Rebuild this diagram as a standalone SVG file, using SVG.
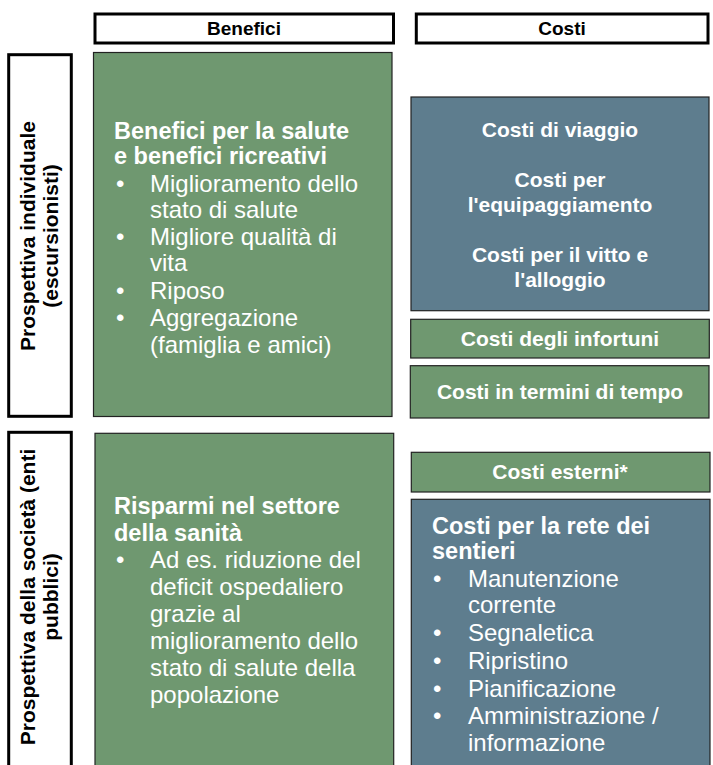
<svg xmlns="http://www.w3.org/2000/svg" width="713" height="765" viewBox="0 0 713 765">
<style>
text{font-family:"Liberation Sans",Arial,sans-serif;}
.hdr{fill:#fff;stroke:#000;stroke-width:3;}
.g{fill:#6F9870;stroke:#222;stroke-width:1.2;}
.b{fill:#5E7D8E;stroke:#222;stroke-width:1.2;}
.ht{font-size:19px;font-weight:bold;fill:#000;text-anchor:middle;}
.lt{font-size:21px;font-weight:bold;fill:#000;text-anchor:middle;}
.hd{font-size:23.5px;font-weight:bold;fill:#fff;}
.bl{font-size:24px;fill:#fff;}
.sm{font-size:21px;font-weight:bold;fill:#fff;text-anchor:middle;}
</style>
<rect width="713" height="765" fill="#fff"/>
<g id="hdr-benefici"><rect class="hdr" x="95" y="14" width="298.5" height="29"/><text class="ht" x="244" y="35">Benefici</text></g>
<g id="hdr-costi"><rect class="hdr" x="416.3" y="14" width="291.7" height="29"/><text class="ht" x="562" y="35">Costi</text></g>
<g id="lbl-individuale"><rect class="hdr" x="8.7" y="54.7" width="62.6" height="361.6"/>
<text class="lt" transform="translate(35,236) rotate(-90)"><tspan x="0" y="0">Prospettiva individuale</tspan><tspan x="0" y="22.5">(escursionisti)</tspan></text></g>
<g id="lbl-societa"><rect class="hdr" x="8.7" y="432.3" width="62.6" height="340"/>
<text class="lt" transform="translate(35,597) rotate(-90)"><tspan x="0" y="0">Prospettiva della società (enti</tspan><tspan x="0" y="22.5">pubblici)</tspan></text></g>
<g id="ben-individuale"><rect class="g" x="93.5" y="52.5" width="298.5" height="364"/>
<text class="hd"><tspan x="114" y="139">Benefici per la salute</tspan><tspan x="114" y="164">e benefici ricreativi</tspan></text>
<text class="bl"><tspan x="116" y="192">•</tspan><tspan x="150" y="192">Miglioramento dello</tspan><tspan x="150" y="218">stato di salute</tspan><tspan x="116" y="245">•</tspan><tspan x="150" y="245">Migliore qualità di</tspan><tspan x="150" y="271">vita</tspan><tspan x="116" y="299">•</tspan><tspan x="150" y="299">Riposo</tspan><tspan x="116" y="326">•</tspan><tspan x="150" y="326">Aggregazione</tspan><tspan x="150" y="353">(famiglia e amici)</tspan></text></g>
<g id="costi-viaggio"><rect class="b" x="411" y="97" width="298" height="213.7"/>
<text class="sm"><tspan x="560" y="137">Costi di viaggio</tspan><tspan x="560" y="187">Costi per</tspan><tspan x="560" y="212">l'equipaggiamento</tspan><tspan x="560" y="262">Costi per il vitto e</tspan><tspan x="560" y="287">l'alloggio</tspan></text></g>
<g id="costi-infortuni"><rect class="g" x="410.7" y="319.3" width="298.6" height="38.7"/><text class="sm" x="560" y="346">Costi degli infortuni</text></g>
<g id="costi-tempo"><rect class="g" x="410.3" y="365.7" width="298.7" height="52.3"/><text class="sm" x="560" y="399">Costi in termini di tempo</text></g>
<g id="ben-societa"><rect class="g" x="95" y="433.3" width="298.7" height="340"/>
<text class="hd"><tspan x="114" y="514">Risparmi nel settore</tspan><tspan x="114" y="541">della sanità</tspan></text>
<text class="bl"><tspan x="116" y="568">•</tspan><tspan x="150" y="568">Ad es. riduzione del</tspan><tspan x="150" y="595">deficit ospedaliero</tspan><tspan x="150" y="622">grazie al</tspan><tspan x="150" y="649">miglioramento dello</tspan><tspan x="150" y="676">stato di salute della</tspan><tspan x="150" y="703">popolazione</tspan></text></g>
<g id="costi-esterni"><rect class="g" x="411.3" y="452.3" width="298.7" height="39.7"/><text class="sm" x="560" y="479">Costi esterni*</text></g>
<g id="costi-rete"><rect class="b" x="411.3" y="499.3" width="298.7" height="280"/>
<text class="hd"><tspan x="432" y="534">Costi per la rete dei</tspan><tspan x="432" y="559">sentieri</tspan></text>
<text class="bl"><tspan x="433" y="587">•</tspan><tspan x="468" y="587">Manutenzione</tspan><tspan x="468" y="613">corrente</tspan><tspan x="433" y="641">•</tspan><tspan x="468" y="641">Segnaletica</tspan><tspan x="433" y="669">•</tspan><tspan x="468" y="669">Ripristino</tspan><tspan x="433" y="697">•</tspan><tspan x="468" y="697">Pianificazione</tspan><tspan x="433" y="724">•</tspan><tspan x="468" y="724">Amministrazione /</tspan><tspan x="468" y="751">informazione</tspan></text></g>
<g id="connectors"></g>
</svg>
